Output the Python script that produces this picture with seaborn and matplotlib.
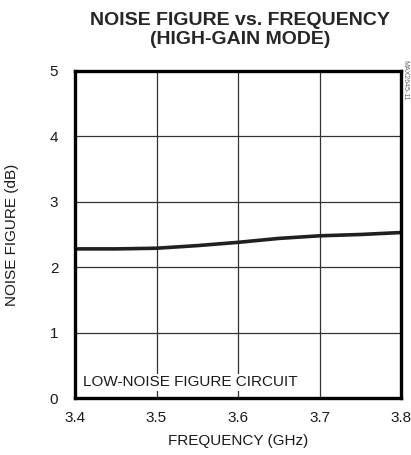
import matplotlib
matplotlib.use("Agg")
import matplotlib.pyplot as plt
import seaborn as sns
import pandas as pd

# curve
freq_ghz = [3.40, 3.45, 3.50, 3.55, 3.60, 3.65, 3.70, 3.75, 3.80]
noise_figure_db = [2.28, 2.28, 2.29, 2.33, 2.38, 2.44, 2.48, 2.50, 2.53]

x_ticks = [3.4, 3.5, 3.6, 3.7, 3.8]
y_ticks = [0, 1, 2, 3, 4, 5]

sns.set_style("white")
plt.rcParams["font.family"] = ["Liberation Sans", "DejaVu Sans"]

df = pd.DataFrame({"freq": freq_ghz, "nf": noise_figure_db})

fig = plt.figure(figsize=(4.11, 4.55), dpi=100)
ax = fig.add_axes([75 / 411, 1 - 398 / 455, 326 / 411, 327 / 455])

sns.lineplot(data=df, x="freq", y="nf", ax=ax, color="#231f20", linewidth=2.6)

ax.set_xlim(3.4, 3.8)
ax.set_ylim(0, 5)
ax.set_xticks(x_ticks)
ax.set_yticks(y_ticks)
ax.set_xticklabels([f"{t:.1f}" for t in x_ticks])
ax.grid(True, color="#333333", linewidth=0.9)
for s in ax.spines.values():
    s.set_linewidth(2.4)
    s.set_color("black")
ax.tick_params(axis="both", length=0, labelsize=11, colors="#1a1a1a")
ax.tick_params(axis="x", pad=9)
ax.tick_params(axis="y", pad=12)

ax.set_xlabel("FREQUENCY (GHz)", fontsize=11, color="#1a1a1a", labelpad=7)
ax.set_ylabel("NOISE FIGURE (dB)", fontsize=11, color="#1a1a1a", labelpad=22)

ax.text(3.41, 0.24, "LOW-NOISE FIGURE CIRCUIT", fontsize=11, color="#1a1a1a",
        va="center", ha="left", bbox=dict(facecolor="white", edgecolor="none", pad=1))

fig.text(240 / 411, 1 - 30 / 455, "NOISE FIGURE vs. FREQUENCY\n(HIGH-GAIN MODE)",
         ha="center", va="center", fontsize=14, fontweight="bold", linespacing=1.15)
fig.text(405 / 411, 1 - 80 / 455, "MAX2645-11", rotation=-90, fontsize=5,
         color="#666666", ha="center", va="center")

fig.savefig("out.png", dpi=100)
